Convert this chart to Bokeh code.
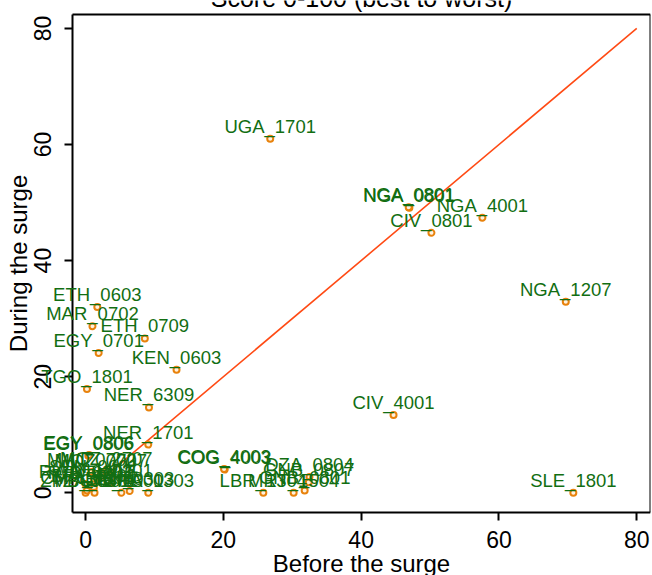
from bokeh.plotting import figure
from bokeh.models import ColumnDataSource, Range1d, Label, LabelSet, FixedTicker, LinearAxis
from bokeh.core.properties import value
from bokeh.embed import file_html
from bokeh.resources import INLINE

# ---- data ----
labels = ["UGA_1701", "NGA_0801", "NGA_0801", "NGA_4001", "CIV_0801", "NGA_1207",
          "CIV_4001", "SLE_1801", "ETH_0603", "MAR_0702", "ETH_0709", "EGY_0701",
          "KEN_0603", "TGO_1801", "NER_6309", "NER_1701", "EGY_0806", "EGY_0806",
          "MOZ_0707", "MWI_0702", "MOZ_2707", "COG_4003", "COG_4003", "DZA_0804",
          "GNB_0807", "GNB_0801", "LBR_1304", "MRT_1504", "GHA_0303", "BEN_0303",
          "GIN_0301", "MLI_0201", "SEN_0601", "BFA_0501", "TZA_0401", "ZMB_0101",
          "CMR_0301", "TCD_0201", "RWA_0103"]
before = [26.8, 47.0, 46.9, 57.6, 50.2, 69.7,
          44.7, 70.8, 1.7, 1.0, 8.6, 1.9,
          13.2, 0.2, 9.2, 9.1, 0.4, 0.5,
          2.2, 0.9, 3.0, 20.2, 20.1, 32.5,
          32.4, 31.8, 25.8, 30.2, 9.1, 6.4,
          5.2, 3.8, 1.2, 1.2, 1.3, 0.0,
          0.2, 0.5, 0.0]
during = [61.0, 49.1, 49.2, 47.4, 44.8, 32.9,
          13.4, 0.0, 32.0, 28.7, 26.6, 24.1,
          21.2, 17.9, 14.7, 8.3, 6.4, 6.5,
          3.4, 3.6, 3.8, 4.0, 4.1, 2.7,
          1.8, 0.4, 0.0, 0.0, 0.0, 0.3,
          0.0, 1.7, 2.4, 0.9, 0.0, 0.0,
          0.4, 1.3, 1.5]
line_x = [0, 80]
line_y = [0, 80]
ticks = [0, 20, 40, 60, 80]
title_text = "Score 0-100 (best to worst)"
x_title = "Before the surge"
y_title = "During the surge"

FONT = "Liberation Sans"
X_LO, X_HI = -1.9, 82.0       # plot-region box
Y_LO, Y_HI = -3.4, 82.4
X_VIEW = (-12.35, 82.0)       # whole canvas width (room for y axis and overhanging labels)
Y_VIEW = (-14.25, 84.81)      # whole canvas height (room for x axis and titles)

src = ColumnDataSource(dict(x=before, y=during, lab=labels))

p = figure(width=652, height=575, x_range=Range1d(*X_VIEW), y_range=Range1d(*Y_VIEW),
           output_backend="svg", toolbar_location=None,
           min_border_left=0, min_border_right=2, min_border_top=0, min_border_bottom=0)

p.background_fill_color = "white"
p.border_fill_color = "white"
p.outline_line_color = None
p.xgrid.visible = False
p.ygrid.visible = False

p.line(line_x, line_y, line_color="#FF4A14", line_width=1.6)

p.scatter("x", "y", source=src, marker="circle", size=6, fill_color="#FFF1DE",
          line_color="#E8820C", line_width=2)
p.add_layout(LabelSet(x="x", y="y", text="lab", source=src, text_align="center",
                      text_baseline="alphabetic", y_offset=6, text_font=value(FONT),
                      text_font_size=value("18.5px"), text_color="#126E12"))

for ax in (p.xaxis[0], p.yaxis[0]):
    ax.ticker = FixedTicker(ticks=ticks)
    ax.axis_line_color = "black"
    ax.axis_line_width = 2
    ax.major_tick_line_color = "black"
    ax.major_tick_line_width = 2
    ax.major_tick_out = 8
    ax.major_tick_in = 0
    ax.minor_tick_line_color = None
    ax.major_label_text_font = FONT
    ax.major_label_text_font_size = "23px"
    ax.major_label_text_color = "black"
    ax.axis_label_text_font = FONT
    ax.axis_label_text_font_size = "24px"
    ax.axis_label_text_font_style = "normal"
    ax.axis_label_text_color = "black"

p.xaxis[0].fixed_location = Y_LO
p.xaxis[0].bounds = (X_LO, X_HI)
p.xaxis[0].major_label_standoff = 10

p.yaxis[0].axis_label = y_title
p.yaxis[0].fixed_location = X_LO
p.yaxis[0].bounds = (Y_LO, Y_HI)
p.yaxis[0].major_label_orientation = "vertical"
p.yaxis[0].major_label_standoff = 13
p.yaxis[0].axis_label_standoff = 0

# top and right edges of the plot-region box
for side, loc, bnds in (("above", Y_HI, (X_LO, X_HI)), ("right", X_HI, (Y_LO, Y_HI))):
    a = LinearAxis(bounds=bnds, fixed_location=loc, ticker=FixedTicker(ticks=[]),
                   axis_line_color="black", axis_line_width=2, major_tick_out=0,
                   major_tick_in=0, minor_tick_out=0, minor_tick_in=0,
                   major_label_standoff=0, major_label_text_font_size="0px")
    p.add_layout(a, side)

# x-axis title, centred under the plot-region box
p.add_layout(Label(x=(X_LO + X_HI) / 2, y=-12.1, text=x_title, text_align="center",
                   text_baseline="middle", text_font=FONT, text_font_size="24px",
                   text_color="black"))

# chart title (partly above the top edge of the picture, as in the original)
p.add_layout(Label(x=(X_LO + X_HI) / 2, y=85.2, text=title_text, text_align="center",
                   text_baseline="alphabetic", text_font=FONT, text_font_size="25px",
                   text_color="black"))

open("out.html", "w").write(file_html(p, INLINE))
